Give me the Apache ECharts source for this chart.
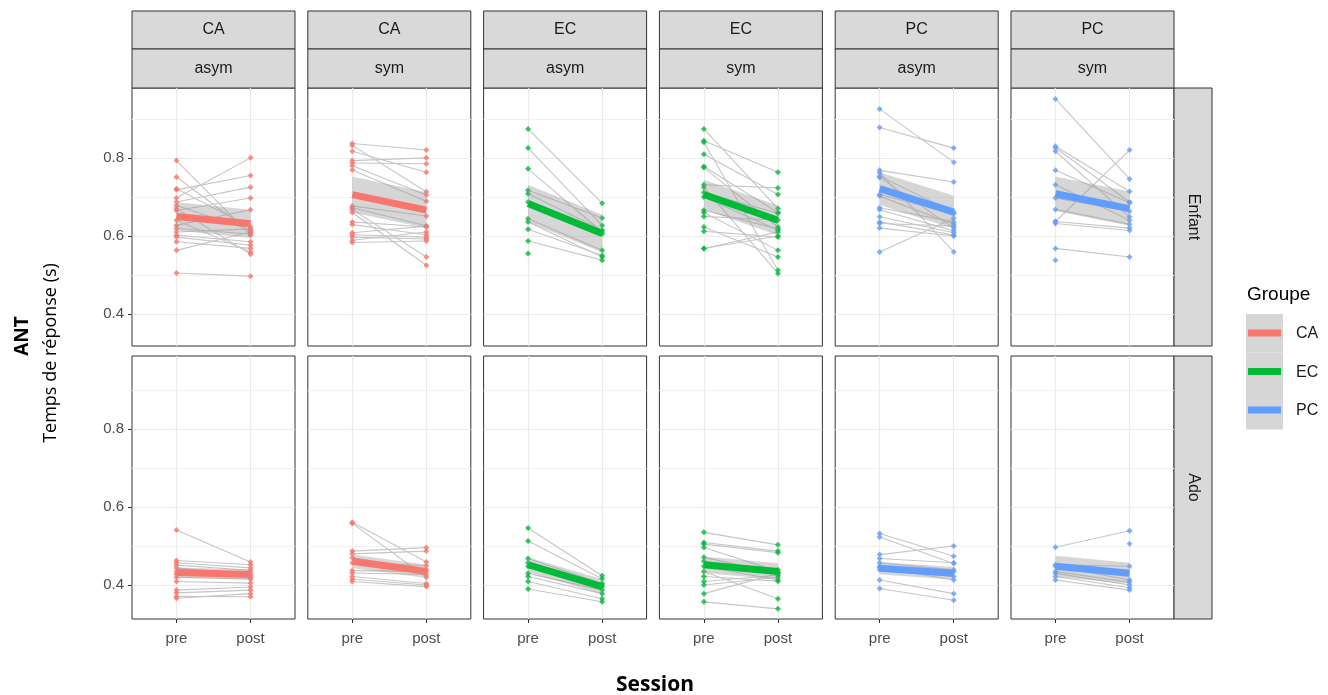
<!DOCTYPE html>
<html><head><meta charset="utf-8">
<script src="https://cdn.jsdelivr.net/npm/echarts@6/dist/echarts.min.js"></script>
<style>html,body{margin:0;padding:0;background:#fff}#c{width:1328px;height:695px}</style>
</head><body><div id="c"></div>
<script>
// ---------- DATA ----------
const groups = ['CA','CA','EC','EC','PC','PC'];
const conditions = ['asym','sym','asym','sym','asym','sym'];
const ages = ['Enfant','Ado'];
const sessions = ['pre','post'];
const yTicks = [0.4, 0.6, 0.8];
const yMinorTicks = [0.5, 0.7, 0.9];
const legendGroups = ['CA','EC','PC'];

// Enfant (paired: pre[i] -> post[i])
const enfantCAasymPre  = [0.793,0.751,0.721,0.697,0.718,0.687,0.678,0.665,0.627,0.619,0.602,0.597,0.585,0.563,0.505,0.640,0.670,0.610];
const enfantCAasymPost = [0.602,0.610,0.623,0.800,0.755,0.725,0.615,0.697,0.667,0.605,0.585,0.576,0.568,0.610,0.497,0.559,0.553,0.618];
const enfantCAsymPre   = [0.837,0.832,0.817,0.793,0.787,0.780,0.769,0.677,0.672,0.668,0.660,0.636,0.629,0.608,0.603,0.597,0.589,0.583];
const enfantCAsymPost  = [0.820,0.713,0.763,0.800,0.785,0.705,0.689,0.651,0.626,0.546,0.525,0.623,0.603,0.625,0.597,0.592,0.610,0.587];
const enfantECasymPre  = [0.874,0.825,0.772,0.717,0.708,0.687,0.644,0.636,0.617,0.587,0.555];
const enfantECasymPost = [0.684,0.627,0.610,0.646,0.615,0.605,0.563,0.546,0.550,0.538,null];
const enfantECsymPre   = [0.874,0.844,0.840,0.809,0.778,0.775,0.731,0.725,0.711,0.700,0.666,0.660,0.650,0.623,0.612,0.568,0.568];
const enfantECsymPost  = [0.670,0.763,0.512,0.706,0.660,0.623,0.723,0.504,0.658,0.615,0.618,0.563,0.640,0.546,0.597,0.610,0.600];
const enfantPCasymPre  = [0.925,0.878,0.768,0.762,0.753,0.750,0.706,0.702,0.672,0.667,0.649,0.636,0.632,0.620,0.559];
const enfantPCasymPost = [0.789,0.825,0.738,0.559,0.661,0.620,0.657,0.630,0.636,0.613,0.608,0.602,0.625,0.600,0.645];
const enfantPCsymPre   = [0.951,0.830,0.826,0.817,0.768,0.731,0.697,0.668,0.637,0.637,0.632,0.568,0.538];
const enfantPCsymPost  = [0.746,0.714,0.687,0.649,0.685,0.640,0.663,0.630,0.820,0.620,0.614,0.546,null];

// Ado
const adoCAasymPre  = [0.541,0.463,0.457,0.451,0.444,0.435,0.428,0.420,0.409,0.387,0.380,0.371,0.366];
const adoCAasymPost = [0.459,0.452,0.444,0.438,0.426,0.432,0.420,0.415,0.405,0.395,0.387,0.370,0.378];
const adoCAsymPre   = [0.561,0.558,0.487,0.480,0.470,0.457,0.437,0.431,0.422,0.415,0.409];
const adoCAsymPost  = [0.459,0.420,0.496,0.487,0.440,0.450,0.435,0.427,0.404,0.400,0.396];
const adoECasymPre  = [0.546,0.513,0.468,0.457,0.448,0.430,0.422,0.409,0.390];
const adoECasymPost = [0.424,0.416,0.404,0.400,0.395,0.387,0.378,0.365,0.357];
const adoECsymPre   = [0.535,0.509,0.505,0.496,0.471,0.461,0.448,0.435,0.422,0.409,0.400,0.378,0.357];
const adoECsymPost  = [0.503,0.487,0.483,0.435,0.430,0.439,0.413,0.365,0.410,0.425,0.420,0.430,0.339];
const adoPCasymPre  = [0.532,0.523,0.478,0.468,0.457,0.448,0.439,0.413,0.391,0.445];
const adoPCasymPost = [0.474,0.455,0.500,0.457,0.439,0.435,0.422,0.378,0.361,0.413];
const adoPCsymPre   = [0.497,0.452,0.448,0.435,0.430,0.422,0.413,null];
const adoPCsymPost  = [0.539,0.448,0.413,0.407,0.400,0.393,0.387,0.506];

// fitted trend (pre, post) and ribbon half-width, per column
const fitEnfant = [[0.650,0.631],[0.706,0.666],[0.683,0.606],[0.706,0.640],[0.721,0.661],[0.708,0.670]];
const ciEnfant  = [0.036, 0.046, 0.048, 0.038, 0.042, 0.044];
const fitAdo    = [[0.432,0.427],[0.461,0.435],[0.452,0.396],[0.452,0.435],[0.443,0.430],[0.448,0.430]];
const ciAdo     = [0.013, 0.017, 0.019, 0.021, 0.016, 0.027];

// ---------- LAYOUT / STYLE ----------
const colors = {CA:'#F8766D', EC:'#00BA38', PC:'#619CFF'};
const FONT = '"Liberation Sans", Arial, sans-serif';
const colLeft = i => 132 + 175.8 * i;
const panelW = 163;
const rowTop = [88, 356];
const rowH = [258, 263];
const yMin = [0.318, 0.313];
const yMax = [0.979, 0.987];

const dataByRow = [
  [[enfantCAasymPre,enfantCAasymPost],[enfantCAsymPre,enfantCAsymPost],[enfantECasymPre,enfantECasymPost],
   [enfantECsymPre,enfantECsymPost],[enfantPCasymPre,enfantPCasymPost],[enfantPCsymPre,enfantPCsymPost]],
  [[adoCAasymPre,adoCAasymPost],[adoCAsymPre,adoCAsymPost],[adoECasymPre,adoECasymPost],
   [adoECsymPre,adoECsymPost],[adoPCasymPre,adoPCasymPost],[adoPCsymPre,adoPCsymPost]]
];
const fits = [fitEnfant, fitAdo];
const cis = [ciEnfant, ciAdo];

const grid = [], xAxis = [], yAxis = [], series = [], graphic = [];

for (let r = 0; r < 2; r++) {
  for (let c = 0; c < 6; c++) {
    const gi = r * 6 + c;
    const col = colors[groups[c]];
    grid.push({left: colLeft(c), top: rowTop[r], width: panelW, height: rowH[r],
      show: true, borderColor: '#333333', borderWidth: 1, backgroundColor: '#ffffff', containLabel: false});
    xAxis.push({type: 'value', gridIndex: gi, min: -0.6, max: 1.6, position: 'bottom',
      axisLine: {show: false, onZero: false},
      axisTick: {show: r === 1, customValues: [0, 1], length: 4, lineStyle: {color: '#333333'}},
      axisLabel: {show: r === 1, customValues: [0, 1], formatter: v => sessions[Math.round(v)] || '',
        color: '#4d4d4d', fontSize: 15, fontFamily: FONT, margin: 12},
      splitLine: {show: true, lineStyle: {color: '#ebebeb', width: 1.2}}
    });
    // major y axis
    yAxis.push({type: 'value', gridIndex: gi, min: yMin[r], max: yMax[r], position: 'left',
      axisLine: {show: false, onZero: false},
      axisTick: {show: c === 0, customValues: yTicks, length: 4, lineStyle: {color: '#333333'}},
      axisLabel: {show: c === 0, customValues: yTicks, formatter: v => v.toFixed(1),
        color: '#4d4d4d', fontSize: 15, fontFamily: FONT, margin: 8},
      splitLine: {show: true, lineStyle: {color: '#ebebeb', width: 1.2}}
    });
    // minor y axis (gridlines only)
    yAxis.push({type: 'value', gridIndex: gi, min: yMin[r], max: yMax[r], position: 'right',
      axisLine: {show: false, onZero: false},
      axisTick: {show: false, customValues: yMinorTicks},
      axisLabel: {show: false, customValues: yMinorTicks},
      splitLine: {show: true, lineStyle: {color: '#f2f2f2', width: 1}}
    });
    const yi = gi * 2;
    const [pre, post] = dataByRow[r][c];
    // individual subject lines
    const lineData = [];
    const pts = [];
    for (let k = 0; k < Math.max(pre.length, post.length); k++) {
      const a = pre[k], b = post[k];
      if (a != null && b != null) lineData.push({coords: [[0, a], [1, b]]});
      if (a != null) pts.push([0, a]);
      if (b != null) pts.push([1, b]);
    }
    series.push({type: 'lines', coordinateSystem: 'cartesian2d', xAxisIndex: gi, yAxisIndex: yi,
      data: lineData, silent: true, z: 2,
      lineStyle: {color: '#c6c6c6', width: 1.1, opacity: 1}});
    series.push({type: 'scatter', xAxisIndex: gi, yAxisIndex: yi, data: pts, silent: true, z: 3,
      symbol: 'diamond', symbolSize: 6, itemStyle: {color: col}});
    // ribbon
    const f = fits[r][c], ci = cis[r][c];
    series.push({type: 'custom', xAxisIndex: gi, yAxisIndex: yi, silent: true, z: 4,
      data: [[0, f[0] - ci, f[0] + ci], [1, f[1] - ci, f[1] + ci]],
      encode: {x: 0, y: [1, 2]},
      renderItem: (params, api) => {
        if (params.dataIndexInside !== 0) return null;
        const p1 = api.coord([api.value(0, 0), api.value(2, 0)]);
        const p2 = api.coord([api.value(0, 1), api.value(2, 1)]);
        const p3 = api.coord([api.value(0, 1), api.value(1, 1)]);
        const p4 = api.coord([api.value(0, 0), api.value(1, 0)]);
        return {type: 'polygon', shape: {points: [p1, p2, p3, p4]},
          style: {fill: 'rgba(153,153,153,0.4)'}};
      }
    });
    // fitted line
    series.push({type: 'line', xAxisIndex: gi, yAxisIndex: yi, silent: true, z: 5,
      data: [[0, f[0]], [1, f[1]]], showSymbol: false, symbol: 'none',
      lineStyle: {color: col, width: 7, cap: 'butt'}});
  }
}

// ---------- STRIPS ----------
const stripFill = '#d9d9d9', stripStroke = '#333333';
for (let c = 0; c < 6; c++) {
  const x = colLeft(c);
  graphic.push({type: 'rect', shape: {x: x, y: 11, width: panelW, height: 38},
    style: {fill: stripFill, stroke: stripStroke, lineWidth: 1}, silent: true});
  graphic.push({type: 'rect', shape: {x: x, y: 49, width: panelW, height: 39},
    style: {fill: stripFill, stroke: stripStroke, lineWidth: 1}, silent: true});
  graphic.push({type: 'text', x: x + panelW / 2, y: 30, silent: true,
    style: {text: groups[c], fill: '#1a1a1a', font: '16px ' + FONT, align: 'center', verticalAlign: 'middle'}});
  graphic.push({type: 'text', x: x + panelW / 2, y: 69, silent: true,
    style: {text: conditions[c], fill: '#1a1a1a', font: '16px ' + FONT, align: 'center', verticalAlign: 'middle'}});
}
const stripRightX = colLeft(5) + panelW;
for (let r = 0; r < 2; r++) {
  graphic.push({type: 'rect', shape: {x: stripRightX, y: rowTop[r], width: 38, height: rowH[r]},
    style: {fill: stripFill, stroke: stripStroke, lineWidth: 1}, silent: true});
  graphic.push({type: 'text', x: stripRightX + 19, y: rowTop[r] + rowH[r] / 2, rotation: -Math.PI / 2, silent: true,
    style: {text: ages[r], fill: '#1a1a1a', font: '16px ' + FONT, align: 'center', verticalAlign: 'middle'}});
}

// ---------- AXIS TITLES ----------
const TFONT = '"Open Sans", "Liberation Sans", sans-serif';
graphic.push({type: 'text', x: 655, y: 685, silent: true,
  style: {text: 'Session', fill: '#000', font: 'bold 21px ' + TFONT, align: 'center', verticalAlign: 'middle'}});
graphic.push({type: 'text', x: 23, y: 336, rotation: Math.PI / 2, silent: true,
  style: {text: 'ANT', fill: '#000', font: 'bold 19px ' + TFONT, align: 'center', verticalAlign: 'middle'}});
graphic.push({type: 'text', x: 51, y: 353, rotation: Math.PI / 2, silent: true,
  style: {text: 'Temps de réponse (s)', fill: '#000', font: '18px ' + TFONT, align: 'center', verticalAlign: 'middle'}});

// ---------- LEGEND ----------
graphic.push({type: 'text', x: 1247, y: 295, silent: true,
  style: {text: 'Groupe', fill: '#000', font: '19px ' + FONT, align: 'left', verticalAlign: 'middle'}});
legendGroups.forEach((g, i) => {
  const y0 = 314 + i * 38.5;
  graphic.push({type: 'rect', shape: {x: 1246, y: y0, width: 37, height: 38.5},
    style: {fill: '#d6d6d6'}, silent: true});
  graphic.push({type: 'line', shape: {x1: 1248, y1: y0 + 19, x2: 1281, y2: y0 + 19},
    style: {stroke: colors[g], lineWidth: 7}, silent: true});
  graphic.push({type: 'text', x: 1296, y: y0 + 20, silent: true,
    style: {text: g, fill: '#1a1a1a', font: '16px ' + FONT, align: 'left', verticalAlign: 'middle'}});
});

const chart = echarts.init(document.getElementById('c'), null, {renderer: 'canvas'});
chart.setOption({animation: false, backgroundColor: '#ffffff', grid, xAxis, yAxis, series, graphic});
</script></body></html>
